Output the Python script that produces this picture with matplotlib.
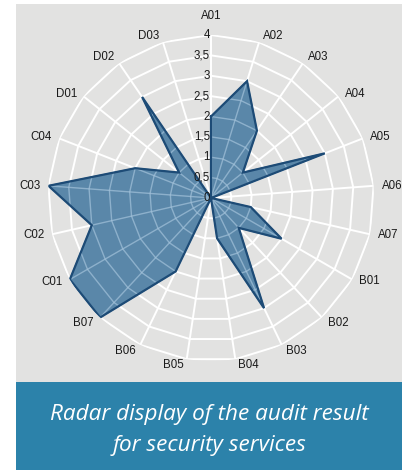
import numpy as np
import matplotlib
matplotlib.use('Agg')
import matplotlib.pyplot as plt
from matplotlib.patches import Rectangle

categories = ['A01', 'A02', 'A03', 'A04', 'A05', 'A06', 'A07',
              'B01', 'B02', 'B03', 'B04', 'B05', 'B06', 'B07',
              'C01', 'C02', 'C03', 'C04', 'D01', 'D02', 'D03']
scores = [2, 3, 2, 1, 3, 0, 1, 2, 1, 3, 1, 0, 2, 4, 4, 3, 4, 2, 1, 3, 0]
tick_values = [0, 0.5, 1, 1.5, 2, 2.5, 3, 3.5, 4]
tick_labels = ['0', '0,5', '1', '1,5', '2', '2,5', '3', '3,5', '4']
caption_lines = ['Radar display of the audit result', 'for security services']

W, H = 411, 470
fig = plt.figure(figsize=(W / 100, H / 100), dpi=100)
fig.patch.set_facecolor('white')


def fx(px):
    return px / W


def fy(py):
    return 1 - py / H


gray = Rectangle((fx(16), fy(382)), fx(402) - fx(16), fy(4) - fy(382),
                 transform=fig.transFigure, facecolor='#e2e2e1', edgecolor='none', zorder=-5)
fig.patches.append(gray)
blue = Rectangle((fx(16), 0), fx(402) - fx(16), fy(382),
                 transform=fig.transFigure, facecolor='#2c82aa', edgecolor='none', zorder=-5)
fig.patches.append(blue)

cx, cy, R = 211, 198, 163
ax = fig.add_axes([fx(cx - R), fy(cy + R), 2 * R / W, 2 * R / H], projection='polar')
ax.set_zorder(2)
ax.set_theta_zero_location('N')
ax.set_theta_direction(-1)
ax.set_ylim(0, 4)
ax.patch.set_visible(False)
ax.grid(False)
ax.spines['polar'].set_visible(False)
ax.set_xticks([])
ax.set_yticks([])

n = len(categories)
theta = np.arange(n) * 2 * np.pi / n
theta_c = np.append(theta, theta[0])


def draw_grid(**kw):
    lines = []
    for r in tick_values[1:]:
        lines += ax.plot(theta_c, [r] * (n + 1), **kw)
    for t in theta:
        lines += ax.plot([t, t], [0, tick_values[-1]], **kw)
    return lines


draw_grid(color='white', lw=1.4, zorder=1, solid_capstyle='butt')
vals = np.append(scores, scores[0])
poly = ax.fill(theta_c, vals, color='#5a87a9', zorder=2)[0]
overlay = draw_grid(color='#a3c2da', lw=1.0, alpha=0.7, zorder=3)
for ln in overlay:
    ln.set_clip_path(poly)
ax.plot(theta_c, vals, color='#1d4b76', lw=1.6, zorder=4, solid_joinstyle='miter')

rmax = tick_values[-1]
for i, (t, lab) in enumerate(zip(theta, categories)):
    s, c = np.sin(t), np.cos(t)
    if abs(s) < 0.05:
        ha, ox = 'center', 0
    else:
        ha = 'left' if s > 0 else 'right'
        ox = np.sign(s) * (2 + 6 * abs(s))
    if c > 0.7:
        va, oy = 'bottom', 0
    elif c < -0.7:
        va, oy = 'top', 0
    else:
        va, oy = 'center', 4 * c
    if i == 0:
        oy = 13
    txt = ax.annotate(lab, xy=(t, rmax), xytext=(ox, oy), textcoords='offset pixels',
                      ha=ha, va=va, fontsize=8.3, family='Liberation Sans',
                      color='#1a1a1a', zorder=5, annotation_clip=False)
    txt.set_clip_on(True)
    txt.set_clip_path(gray)

for v, lab in zip(tick_values, tick_labels):
    ax.annotate(lab, xy=(0, v), xytext=(-1, 0), textcoords='offset pixels',
                ha='right', va='center', fontsize=8.3, family='Liberation Sans',
                color='#1a1a1a', zorder=6)

fig.text(fx(209), fy(420), caption_lines[0], ha='center', va='baseline', fontsize=16.2,
         style='italic', color='white', family='Open Sans')
fig.text(fx(209), fy(451.5), caption_lines[1], ha='center', va='baseline', fontsize=16.2,
         style='italic', color='white', family='Open Sans')

fig.savefig('out.png', dpi=100, facecolor='white')
